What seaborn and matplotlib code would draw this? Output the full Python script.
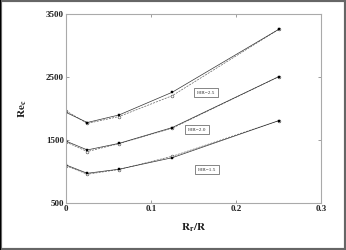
import matplotlib
matplotlib.use("Agg")
import matplotlib.pyplot as plt
import seaborn as sns
import pandas as pd
from matplotlib.patches import Rectangle

# Data
rr_ratio = [0, 0.025, 0.0625, 0.125, 0.25]
hr_labels = ["H/R=2.5", "H/R=2.0", "H/R=1.5"]
solid_25 = [1940, 1780, 1900, 2260, 3255]
solid_20 = [1485, 1345, 1450, 1700, 2505]
solid_15 = [1107, 975, 1040, 1222, 1808]
dash_25 = [1965, 1765, 1875, 2205, 3255]
dash_20 = [1470, 1320, 1445, 1690, 2505]
dash_15 = [1095, 960, 1035, 1245, 1808]
label_x = [0.165, 0.154, 0.166]
label_y = [2250, 1665, 1030]

sns.set_theme(style="white")
plt.rcParams['font.family'] = ['Liberation Serif', 'DejaVu Serif']
plt.rcParams['mathtext.fontset'] = 'stix'

fig = plt.figure(figsize=(3.46, 2.50), dpi=100)
ax = fig.add_axes([0.1908, 0.187, 0.737, 0.757])

rows = []
for lab, s, d in zip(hr_labels, [solid_25, solid_20, solid_15], [dash_25, dash_20, dash_15]):
    for xv, sv, dv in zip(rr_ratio, s, d):
        rows.append(dict(x=xv, y=sv, grp=lab, kind="solid"))
        rows.append(dict(x=xv, y=dv, grp=lab, kind="dash"))
df = pd.DataFrame(rows)

for lab in hr_labels:
    sub = df[(df.grp == lab) & (df.kind == "dash")]
    sns.lineplot(data=sub, x="x", y="y", ax=ax, color="#666666", lw=0.5,
                 linestyle=(0, (3, 1.5)), marker="o", markersize=2.0,
                 markerfacecolor="white", markeredgecolor="#444444",
                 markeredgewidth=0.4, legend=False)
    sub = df[(df.grp == lab) & (df.kind == "solid")]
    sns.lineplot(data=sub, x="x", y="y", ax=ax, color="#333333", lw=0.5,
                 marker="s", markersize=1.6, markerfacecolor="black",
                 markeredgecolor="black", markeredgewidth=0.3, legend=False)

for lab, lx, ly in zip(hr_labels, label_x, label_y):
    ax.text(lx, ly, lab, fontsize=3.8, ha="center", va="center", color="#333333",
            bbox=dict(boxstyle="square,pad=0.5", fc="white", ec="#555555", lw=0.5))

ax.set_xlim(0, 0.3)
ax.set_ylim(500, 3500)
ax.set_xticks([0, 0.1, 0.2, 0.3])
ax.set_xticklabels(["0", "0.1", "0.2", "0.3"])
ax.set_yticks([500, 1500, 2500, 3500])
ax.set_yticklabels(["500", "1500", "2500", "3500"])
ax.tick_params(axis="both", direction="in", length=2, width=0.5, color="#777777",
               labelsize=6.5, pad=1.5, top=True, right=True, bottom=True, left=True)
for lbl in ax.get_xticklabels() + ax.get_yticklabels():
    lbl.set_fontweight("bold")
    lbl.set_color("#222222")
for sp in ax.spines.values():
    sp.set_color("#aaaaaa")
    sp.set_linewidth(0.8)

ax.set_xlabel(r"$\mathbf{R_r/R}$", fontsize=8, labelpad=6, color="#222222")
ax.set_ylabel(r"$\mathbf{Re_c}$", fontsize=8, labelpad=12, color="#222222")

# Figure frame
fig.patches.append(Rectangle((0, 0), 1, 1, transform=fig.transFigure, fill=False,
                             ec="#666666", lw=3, zorder=10))
fig.patches.append(Rectangle((0, 0), 0.004, 1, transform=fig.transFigure,
                             fc="black", ec="none", zorder=11))

fig.savefig("out.png", dpi=100)
